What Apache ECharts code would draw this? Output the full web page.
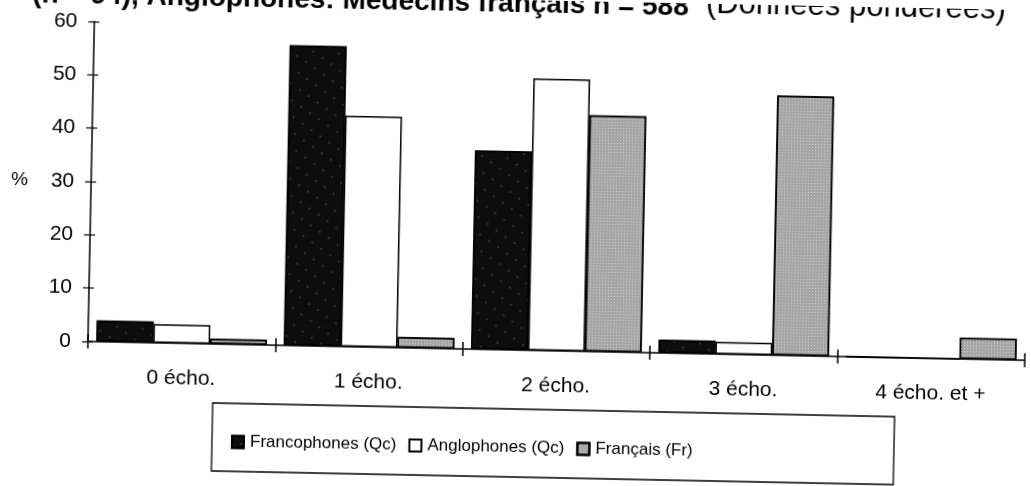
<!DOCTYPE html>
<html>
<head>
<meta charset="utf-8">
<script src="https://cdn.jsdelivr.net/npm/echarts/dist/echarts.min.js"></script>
<style>
  html, body { margin: 0; padding: 0; background: #fff; overflow: hidden; }
  /* the scanned page is slightly turned clockwise */
  #main { width: 1031px; height: 486px; transform: rotate(1.15deg); transform-origin: 515px 243px; }
</style>
</head>
<body>
<div id="main"></div>
<script>
const categories = ['0 écho.', '1 écho.', '2 écho.', '3 écho.', '4 écho. et +'];
const francophones = [4, 56.3, 37.3, 2.5, 0];
const anglophones = [3.5, 43.3, 51, 2.3, 0];
const francais = [1, 2, 44.3, 48.7, 4];
const yTicks = [0, 10, 20, 30, 40, 50, 60];
const seriesNames = ['Francophones (Qc)', 'Anglophones (Qc)', 'Français (Fr)'];

const FONT = '"Liberation Sans", Arial, sans-serif';
const chart = echarts.init(document.getElementById('main'));

const gridBox = { left: 90, top: 30, right: 4, bottom: 136, containLabel: false, outerBoundsMode: 'none' };
const yMin = yTicks[0], yMax = yTicks[yTicks.length - 1], yStep = yTicks[1] - yTicks[0];

const option = {
  animation: false,
  backgroundColor: '#fff',
  grid: [gridBox, Object.assign({}, gridBox)],
  xAxis: [
    {
      type: 'category', gridIndex: 0, data: categories,
      axisLine: { lineStyle: { color: '#000', width: 1.5 } },
      axisTick: { show: true, length: 7, lineStyle: { color: '#000', width: 1.5 } },
      axisLabel: { color: '#000', fontSize: 21, fontFamily: FONT, margin: 25 },
      splitLine: { show: false }
    },
    {
      // inner half of the crossing ticks
      type: 'category', gridIndex: 1, data: categories,
      axisLine: { show: false },
      axisTick: { show: true, inside: true, length: 7, lineStyle: { color: '#000', width: 1.5 } },
      axisLabel: { show: false },
      splitLine: { show: false }
    }
  ],
  yAxis: [
    {
      type: 'value', gridIndex: 0, min: yMin, max: yMax, interval: yStep,
      axisLine: { show: true, lineStyle: { color: '#000', width: 1.5 } },
      axisTick: { show: true, length: 6, lineStyle: { color: '#000', width: 1.2 } },
      axisLabel: { color: '#000', fontSize: 21, fontFamily: FONT, margin: 17 },
      splitLine: { show: false }
    },
    {
      type: 'value', gridIndex: 1, min: yMin, max: yMax, interval: yStep,
      axisLine: { show: false },
      axisTick: { show: true, inside: true, length: 5, lineStyle: { color: '#000', width: 1.2 } },
      axisLabel: { show: false },
      splitLine: { show: false }
    }
  ],
  legend: {
    data: seriesNames,
    left: 230, top: 434,
    icon: 'rect', itemWidth: 12, itemHeight: 12, itemGap: 12,
    textStyle: { color: '#000', fontSize: 17, fontFamily: FONT, padding: [0, 0, 0, 1] }
  },
  series: [
    {
      name: seriesNames[0], type: 'bar', data: francophones,
      barGap: '0%', barCategoryGap: '9%',
      itemStyle: {
        color: '#0d0d0d', borderColor: '#000', borderWidth: 1.5,
        decal: { symbol: 'circle', symbolSize: 0.5, color: 'rgba(255,255,255,0.85)', dashArrayX: [[2, 9]], dashArrayY: [2, 11], rotation: 0.6 }
      }
    },
    {
      name: seriesNames[1], type: 'bar', data: anglophones,
      barGap: '0%', barCategoryGap: '9%',
      itemStyle: { color: '#fff', borderColor: '#000', borderWidth: 1.5 }
    },
    {
      name: seriesNames[2], type: 'bar', data: francais,
      barGap: '0%', barCategoryGap: '9%',
      itemStyle: {
        color: '#a6a6a6', borderColor: '#000', borderWidth: 1.5,
        decal: { symbol: 'rect', symbolSize: 1, color: 'rgba(240,240,240,0.55)', dashArrayX: [1, 2], dashArrayY: [1, 2] }
      }
    }
  ],
  graphic: [
    {
      type: 'text', z: 10,
      style: { x: 684, y: 18, text: '(n = 94), Anglophones: Médecins français n = 588', font: 'bold 28px ' + FONT, fill: '#000', textAlign: 'right', textVerticalAlign: 'bottom' }
    },
    {
      type: 'text', z: 10,
      style: { x: 1001, y: 16, text: '(Données pondérées)', font: '31px ' + FONT, fill: '#000', textAlign: 'right', textVerticalAlign: 'bottom' }
    },
    {
      type: 'text', z: 10,
      style: { x: 10, y: 190, text: '%', font: '19px ' + FONT, fill: '#000', textVerticalAlign: 'middle' }
    },
    {
      type: 'rect', z: 5,
      shape: { x: 216, y: 409, width: 682, height: 68 },
      style: { fill: 'none', stroke: '#000', lineWidth: 1.3 }
    }
  ]
};
chart.setOption(option);
</script>
</body>
</html>
